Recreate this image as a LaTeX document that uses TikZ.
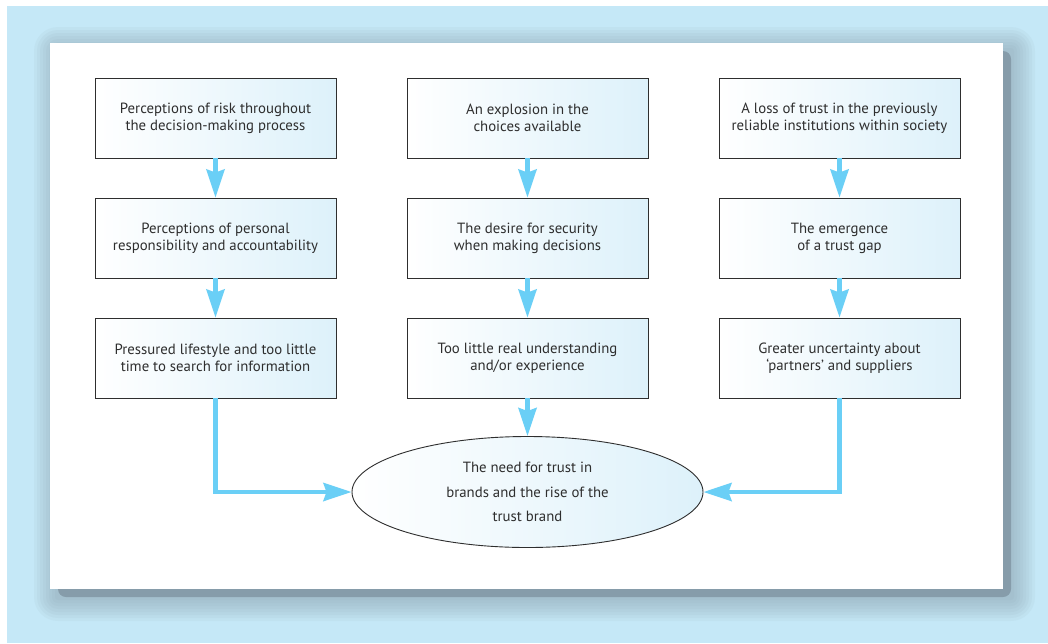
\documentclass[tikz,border=0pt]{standalone}
\usepackage{fontspec}
\setmainfont{PT Sans}
\usetikzlibrary{shapes.geometric,arrows.meta}

\definecolor{pageblue}{HTML}{C5E8F7}
\definecolor{shadowgray}{HTML}{869CAA}
\definecolor{boxblue}{HTML}{DDF1FA}
\definecolor{flowblue}{HTML}{6ACFF6}
\definecolor{inkgray}{HTML}{2E2E2E}

\tikzset{
  stepbox/.style={draw=inkgray, line width=0.9pt, left color=white, right color=boxblue,
    minimum width=241pt, minimum height=80pt, align=center, text=inkgray,
    font=\fontsize{14.8}{17}\selectfont},
  goalnode/.style={ellipse, draw=inkgray, line width=0.9pt, left color=white, right color=boxblue,
    minimum width=351pt, minimum height=111pt, align=center, text=inkgray,
    font=\fontsize{14.8}{24.5}\selectfont},
  flowarrow/.style={draw=flowblue, line width=4.5pt,
    -{Stealth[width=18pt,length=28pt,inset=3pt]}}
}

\begin{document}
\begin{tikzpicture}[x=1pt,y=-1pt]
    % page and panel
    \fill[white] (0,0) rectangle (1048,643);
    \fill[pageblue] (7,6) rectangle (1048,643);
    \foreach \k in {24,21,...,3}
        \fill[shadowgray, opacity=0.08, rounded corners=\k pt] (58-\k,51-\k) rectangle (1011+\k,597+\k);
    \fill[shadowgray, rounded corners=8pt] (58,51) rectangle (1011,597);
    \fill[white] (50,43) rectangle (1003,589);

    % left column
    \node[stepbox] (a1) at (215.5,118) {Perceptions of risk throughout\\the decision-making process};
    \node[stepbox] (a2) at (215.5,238) {Perceptions of personal\\responsibility and accountability};
    \node[stepbox] (a3) at (215.5,358) {Pressured lifestyle and too little\\time to search for information};

    % middle column
    \node[stepbox] (b1) at (527.5,118) {An explosion in the\\choices available};
    \node[stepbox] (b2) at (527.5,238) {The desire for security\\when making decisions};
    \node[stepbox] (b3) at (527.5,358) {Too little real understanding\\and/or experience};

    % right column
    \node[stepbox] (c1) at (839.5,118) {A loss of trust in the previously\\reliable institutions within society};
    \node[stepbox] (c2) at (839.5,238) {The emergence\\of a trust gap};
    \node[stepbox] (c3) at (839.5,358) {Greater uncertainty about\\`partners' and suppliers};

    \node[goalnode] (goal) at (527.5,492) {The need for trust in\\brands and the rise of the\\trust brand};

    \draw[flowarrow] (a1) -- (a2);
    \draw[flowarrow] (a2) -- (a3);
    \draw[flowarrow] (b1) -- (b2);
    \draw[flowarrow] (b2) -- (b3);
    \draw[flowarrow] (c1) -- (c2);
    \draw[flowarrow] (c2) -- (c3);
    \draw[flowarrow] (b3) -- (goal);
    \draw[flowarrow] (a3.south) |- (goal.west);
    \draw[flowarrow] (c3.south) |- (goal.east);
\end{tikzpicture}
\end{document}
